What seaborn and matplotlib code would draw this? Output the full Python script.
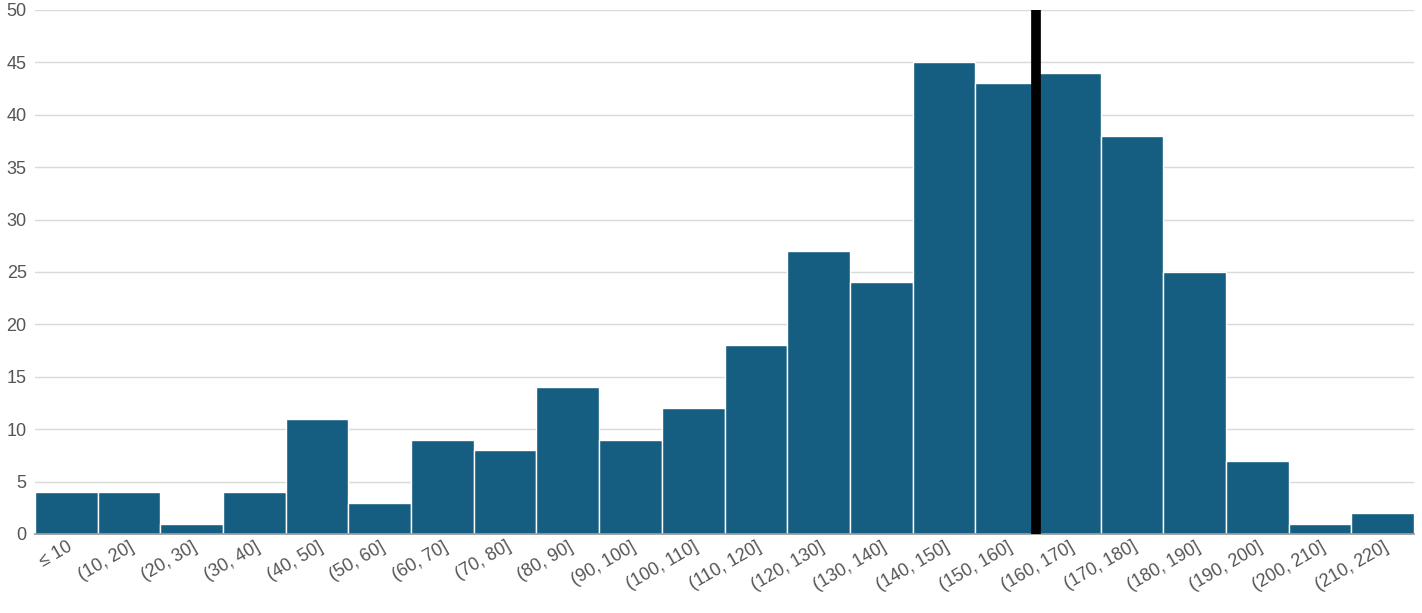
import matplotlib
matplotlib.use("Agg")
import matplotlib.pyplot as plt
import seaborn as sns
import pandas as pd

categories = ["≤ 10", "(10, 20]", "(20, 30]", "(30, 40]", "(40, 50]", "(50, 60]", "(60, 70]",
              "(70, 80]", "(80, 90]", "(90, 100]", "(100, 110]", "(110, 120]", "(120, 130]",
              "(130, 140]", "(140, 150]", "(150, 160]", "(160, 170]", "(170, 180]", "(180, 190]",
              "(190, 200]", "(200, 210]", "(210, 220]"]
counts = [4, 4, 1, 4, 11, 3, 9, 8, 14, 9, 12, 18, 27, 24, 45, 43, 44, 38, 25, 7, 1, 2]
marker_pos = 15.47  # vertical reference line, in category units
yticks = [0, 5, 10, 15, 20, 25, 30, 35, 40, 45, 50]

sns.set_theme(style="white")
plt.rcParams['font.family'] = ['Liberation Sans', 'DejaVu Sans']

fig = plt.figure(figsize=(14.22, 6.13), dpi=100)
ax = fig.add_axes([35/1422, 1-534/613, (1414-35)/1422, (534-10)/613])
df = pd.DataFrame({"cat": categories, "n": counts})
sns.barplot(data=df, x="cat", y="n", color="#155e82", saturation=1, width=1.0,
            edgecolor="white", linewidth=1, ax=ax, zorder=2)
ax.axvline(marker_pos, color="black", linewidth=7, zorder=3)
ax.set_xlim(-0.5, len(categories) - 0.5)
ax.set_ylim(0, 50)
ax.set_yticks(yticks)
ax.grid(axis="y", color="#d9d9d9", linewidth=1, zorder=0)
ax.set_axisbelow(True)
for s in ["top", "right", "left"]:
    ax.spines[s].set_visible(False)
ax.spines["bottom"].set_color("#999999")
ax.set_xlabel("")
ax.set_ylabel("")
ax.tick_params(axis="y", labelsize=13, colors="#555555", length=0, pad=6)
ax.tick_params(axis="x", labelsize=13, colors="#555555", length=0, pad=3)
plt.setp(ax.get_xticklabels(), rotation=30, ha="right", rotation_mode="anchor")
fig.savefig("out.png", dpi=100)
